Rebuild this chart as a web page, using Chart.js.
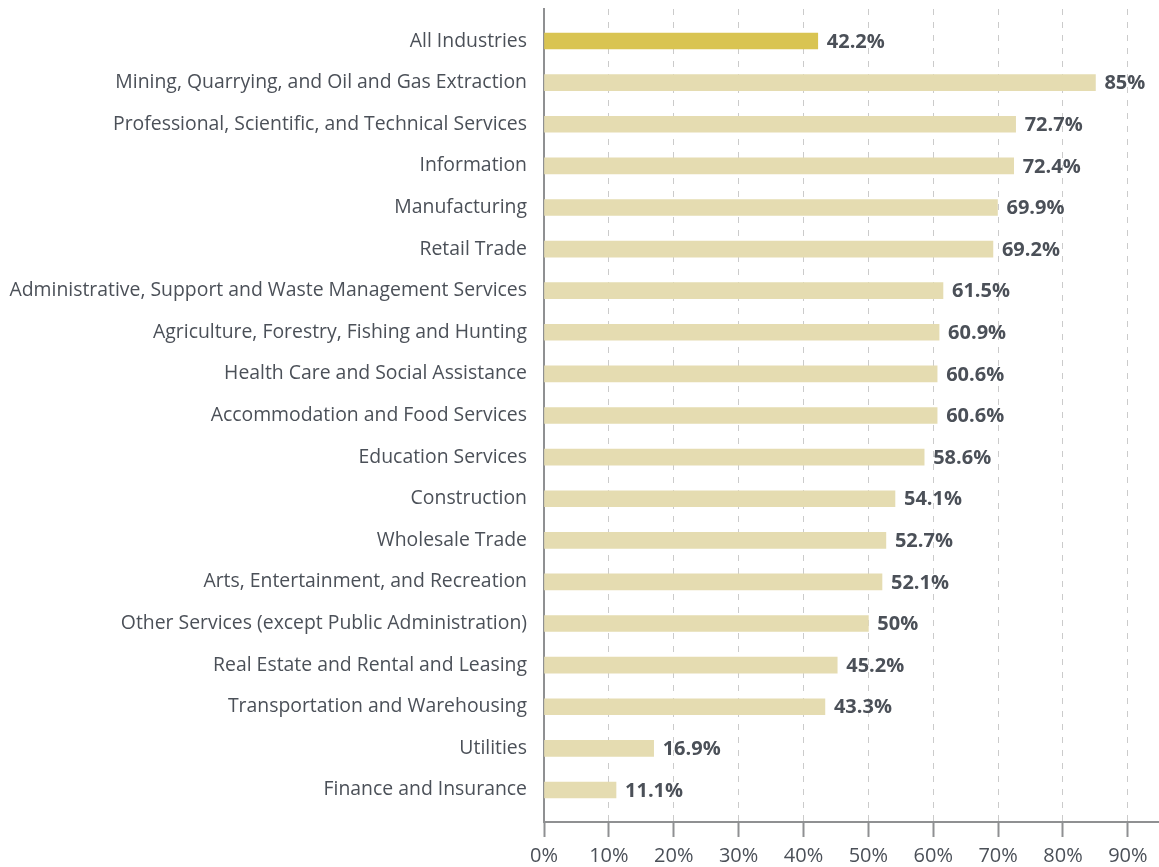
<!DOCTYPE html>
<html>
<head>
<meta charset="utf-8">
<script src="https://cdn.jsdelivr.net/npm/chart.js@4/dist/chart.umd.min.js"></script>
<style>
  body { margin: 0; background: #fff; }
  canvas { display: block; }
</style>
</head>
<body>
<canvas id="myChart" width="1159" height="867"></canvas>
<script>
const categories = [
    "All Industries",
    "Mining, Quarrying, and Oil and Gas Extraction",
    "Professional, Scientific, and Technical Services",
    "Information",
    "Manufacturing",
    "Retail Trade",
    "Administrative, Support and Waste Management Services",
    "Agriculture, Forestry, Fishing and Hunting",
    "Health Care and Social Assistance",
    "Accommodation and Food Services",
    "Education Services",
    "Construction",
    "Wholesale Trade",
    "Arts, Entertainment, and Recreation",
    "Other Services (except Public Administration)",
    "Real Estate and Rental and Leasing",
    "Transportation and Warehousing",
    "Utilities",
    "Finance and Insurance"
];
const values = [42.2, 85, 72.7, 72.4, 69.9, 69.2, 61.5, 60.9, 60.6, 60.6, 58.6, 54.1, 52.7, 52.1, 50, 45.2, 43.3, 16.9, 11.1];
const xTicks = [0, 10, 20, 30, 40, 50, 60, 70, 80, 90];

const textColor = "#4b5058";
const axisColor = "#8f9092";

// value labels at the end of each bar
const barLabels = {
    id: "barLabels",
    afterDatasetsDraw(chart) {
        const ctx = chart.ctx;
        const meta = chart.getDatasetMeta(0);
        ctx.save();
        ctx.font = "bold 20px 'Open Sans'";
        ctx.fillStyle = textColor;
        ctx.textAlign = "left";
        ctx.textBaseline = "middle";
        meta.data.forEach(function (bar, i) {
            ctx.fillText(values[i] + "%", bar.x + 9, bar.y + 1);
        });
        ctx.restore();
    }
};

const config = {
    type: "bar",
    data: {
        datasets: [{
            data: values.map(function (v, i) { return {x: v, y: i}; }),
            backgroundColor: values.map(function (v, i) { return i === 0 ? "#d9c452" : "#e5dcb1"; }),
            barThickness: 16
        }]
    },
    options: {
        indexAxis: "y",
        responsive: false,
        animation: false,
        devicePixelRatio: 1,
        layout: { padding: { top: 9, left: 0, right: 0, bottom: 0 } },
        plugins: {
            legend: { display: false },
            tooltip: { enabled: false }
        },
        scales: {
            x: {
                type: "linear",
                position: "bottom",
                min: 0,
                max: 94.8,
                afterBuildTicks: function (scale) {
                    scale.ticks = xTicks.map(function (t) { return {value: t}; });
                },
                afterFit: function (scale) { scale.height = 45; },
                ticks: {
                    callback: function (v) { return v + "%"; },
                    color: textColor,
                    font: { family: "'Open Sans'", size: 20 },
                    padding: 7,
                    maxRotation: 0
                },
                grid: {
                    color: function (c) { return c.tick && c.tick.value === 0 ? "rgba(0,0,0,0)" : "#cbcbcb"; },
                    lineWidth: 1,
                    tickColor: axisColor,
                    tickWidth: 2,
                    tickLength: 15,
                    tickBorderDash: []
                },
                border: { color: axisColor, width: 2, dash: [6, 7] }
            },
            y: {
                type: "linear",
                reverse: true,
                offset: false,
                min: -0.77,
                max: 18.77,
                afterBuildTicks: function (scale) {
                    scale.ticks = categories.map(function (c, i) { return {value: i}; });
                },
                afterFit: function (scale) {
                    scale.width = 544;
                    scale.paddingTop = 0;
                    scale.paddingBottom = 0;
                },
                ticks: {
                    autoSkip: false,
                    callback: function (v) { return categories[v]; },
                    color: textColor,
                    font: { family: "'Open Sans'", size: 19.4 },
                    padding: 17
                },
                grid: { display: false, drawTicks: false, offset: false },
                border: { color: axisColor, width: 2 }
            }
        }
    },
    plugins: [barLabels]
};

new Chart("myChart", config);
</script>
</body>
</html>
